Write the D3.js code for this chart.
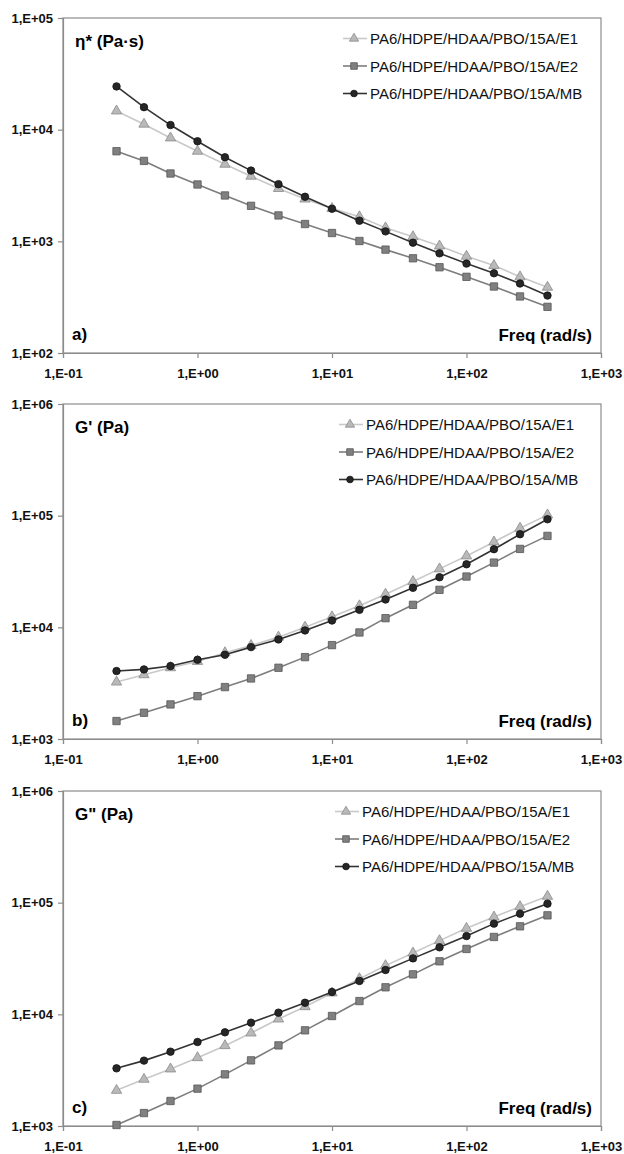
<!DOCTYPE html>
<html>
<head>
<meta charset="utf-8">
<script src="https://cdn.jsdelivr.net/npm/d3@7"></script>
<style>
  html, body { margin: 0; padding: 0; background: #fff; }
  svg { display: block; font-family: "Liberation Sans", Arial, sans-serif; }
</style>
</head>
<body>
<div id="chart"></div>
<script>
// Frequencies (rad/s), same for every series
const freq = [0.25, 0.4, 0.63, 1, 1.6, 2.5, 4, 6.3, 10, 16, 25, 40, 63, 100, 160, 250, 400];

const seriesNames = ['PA6/HDPE/HDAA/PBO/15A/E1', 'PA6/HDPE/HDAA/PBO/15A/E2', 'PA6/HDPE/HDAA/PBO/15A/MB'];

// a) complex viscosity eta* (Pa·s)
const etaE1 = [14700, 11200, 8430, 6410, 4900, 3830, 2970, 2390, 1970, 1660, 1320, 1100, 908, 735, 607, 481, 388];
const etaE2 = [6410, 5250, 4050, 3230, 2575, 2080, 1706, 1429, 1187, 1007, 843, 705, 586, 481, 394, 321, 259];
const etaMB = [24400, 15900, 11000, 7870, 5660, 4300, 3250, 2506, 1958, 1530, 1228, 973, 781, 632, 518, 419, 327];

// b) storage modulus G' (Pa)
const gpE1 = [3235, 3760, 4345, 4950, 5920, 6880, 8170, 10040, 12420, 15590, 19800, 25700, 33400, 43600, 58200, 77200, 101600];
const gpE2 = [1448, 1718, 2040, 2420, 2917, 3485, 4345, 5410, 6930, 8995, 12080, 15900, 21670, 28500, 38000, 50400, 65900];
const gpMB = [4060, 4200, 4500, 5125, 5680, 6650, 7790, 9380, 11510, 14350, 17750, 22600, 28100, 36700, 50100, 68200, 92900];

// c) loss modulus G'' (Pa)
const gppE1 = [2085, 2620, 3240, 4090, 5240, 6800, 9080, 11700, 15530, 20850, 27300, 35400, 45700, 58900, 74400, 92100, 114000];
const gppE2 = [1021, 1306, 1675, 2160, 2900, 3870, 5270, 7190, 9660, 13150, 17460, 22800, 29850, 38500, 49300, 61400, 77000];
const gppMB = [3283, 3850, 4630, 5650, 6900, 8420, 10350, 12700, 15850, 19900, 24950, 31700, 39800, 50200, 64900, 79700, 98000];

const xTicks = [0.1, 1, 10, 100, 1000];
const yTicksA = [1e2, 1e3, 1e4, 1e5];
const yTicksBC = [1e3, 1e4, 1e5, 1e6];

const panelTitles = ['η* (Pa·s)', "G' (Pa)", 'G" (Pa)'];
const panelLetters = ['a)', 'b)', 'c)'];
const xTitle = 'Freq (rad/s)';

// marker / line styles per series (E1, E2, MB)
const styles = [
    { shape: d3.symbolTriangle, size: 46, fill: '#b9b9b9', stroke: '#8a8a8a', line: '#c9c9c9' },
    { shape: d3.symbolSquare, size: 54, fill: '#808080', stroke: '#555', line: '#7d7d7d' },
    { shape: d3.symbolCircle, size: 44, fill: '#262626', stroke: '#111', line: '#333' }
];

const W = 624, H = 1154;
const plotLeft = 63, plotRight = 601;
const panelTops = [18, 404, 791];
const plotH = 335;
const legendTextX = [370, 366, 362];

// tick label like "1,E+05"
function sciLabel(v) {
    const e = Math.round(Math.log10(v));
    const s = e < 0 ? '-' : '+';
    return '1,E' + s + String(Math.abs(e)).padStart(2, '0');
}

const svg = d3.select('#chart').append('svg')
    .attr('width', W)
    .attr('height', H)
    .attr('viewBox', `0 0 ${W} ${H}`);

function drawPanel(i, yTicks, seriesValues) {
    const top = panelTops[i];
    const g = svg.append('g').attr('transform', `translate(${plotLeft},${top})`);
    const w = plotRight - plotLeft;

    const x = d3.scaleLog().domain([xTicks[0], xTicks[xTicks.length - 1]]).range([0, w]);
    const y = d3.scaleLog().domain([yTicks[0], yTicks[yTicks.length - 1]]).range([plotH, 0]);

    // frame
    g.append('rect')
        .attr('x', 0).attr('y', 0)
        .attr('width', w).attr('height', plotH)
        .attr('fill', 'none')
        .attr('stroke', '#8c8c8c')
        .attr('stroke-width', 1.2);

    const xAxis = g.append('g')
        .attr('transform', `translate(0,${plotH})`)
        .call(d3.axisBottom(x).tickValues(xTicks).tickFormat(sciLabel).tickSize(5).tickPadding(11));
    const yAxis = g.append('g')
        .call(d3.axisLeft(y).tickValues(yTicks).tickFormat(sciLabel).tickSize(5).tickPadding(5));

    [xAxis, yAxis].forEach(ax => {
        ax.select('.domain').attr('stroke', '#8c8c8c').attr('stroke-width', 1.2);
        ax.selectAll('.tick line').attr('stroke', '#8c8c8c').attr('stroke-width', 1.2);
        ax.selectAll('.tick text')
            .attr('fill', '#111')
            .attr('font-size', '13px')
            .attr('font-weight', 'bold')
            .attr('font-family', '"Liberation Sans", Arial, sans-serif');
    });

    // series: lines then markers
    const line = d3.line().x(d => x(d[0])).y(d => y(d[1]));
    seriesValues.forEach((vals, s) => {
        const st = styles[s];
        const pts = freq.map((f, k) => [f, vals[k]]);
        g.append('path')
            .datum(pts)
            .attr('d', line)
            .attr('fill', 'none')
            .attr('stroke', st.line)
            .attr('stroke-width', 1.6);
        g.selectAll(`.m${s}`)
            .data(pts)
            .enter().append('path')
            .attr('class', `m${s}`)
            .attr('transform', d => `translate(${x(d[0])},${y(d[1])})`)
            .attr('d', d3.symbol().type(st.shape).size(st.size))
            .attr('fill', st.fill)
            .attr('stroke', st.stroke)
            .attr('stroke-width', 0.8);
    });

    // labels inside plot
    g.append('text')
        .attr('x', 12).attr('y', 29)
        .attr('font-size', '17px').attr('font-weight', 'bold')
        .text(panelTitles[i]);
    g.append('text')
        .attr('x', 9).attr('y', plotH - 13)
        .attr('font-size', '17px').attr('font-weight', 'bold')
        .text(panelLetters[i]);
    g.append('text')
        .attr('x', w - 9).attr('y', plotH - 12)
        .attr('text-anchor', 'end')
        .attr('font-size', '17px').attr('font-weight', 'bold')
        .text(xTitle);

    // legend
    const legX = legendTextX[i] - plotLeft - 27;
    seriesNames.forEach((name, s) => {
        const st = styles[s];
        const ly = 20.5 + s * 27.5;
        const lg = g.append('g').attr('transform', `translate(${legX},${ly})`);
        lg.append('line')
            .attr('x1', 0).attr('x2', 24)
            .attr('stroke', st.line).attr('stroke-width', 1.6);
        lg.append('path')
            .attr('transform', 'translate(11,0)')
            .attr('d', d3.symbol().type(st.shape).size(st.size * 0.8))
            .attr('fill', st.fill)
            .attr('stroke', st.stroke)
            .attr('stroke-width', 0.8);
        lg.append('text')
            .attr('x', 27).attr('y', 5.5)
            .attr('font-size', '15px')
            .attr('fill', '#111')
            .text(name);
    });
}

drawPanel(0, yTicksA, [etaE1, etaE2, etaMB]);
drawPanel(1, yTicksBC, [gpE1, gpE2, gpMB]);
drawPanel(2, yTicksBC, [gppE1, gppE2, gppMB]);
</script>
</body>
</html>
